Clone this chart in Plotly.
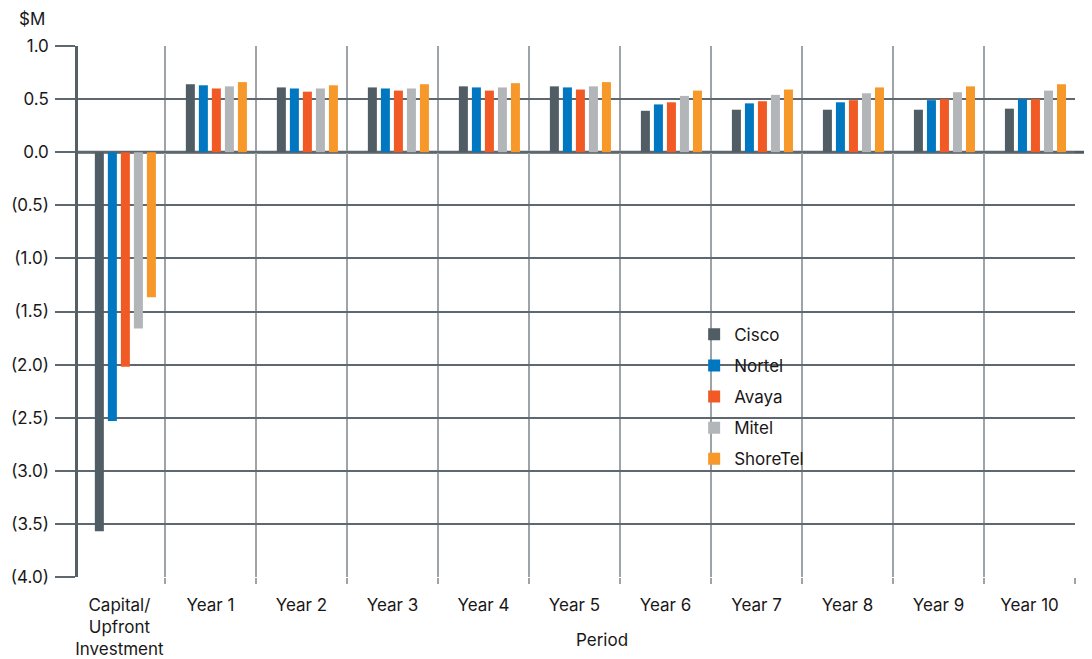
import plotly.graph_objects as go

categories = ["Capital/<br>Upfront<br>Investment", "Year 1", "Year 2", "Year 3", "Year 4",
              "Year 5", "Year 6", "Year 7", "Year 8", "Year 9", "Year 10"]
series_names = ["Cisco", "Nortel", "Avaya", "Mitel", "ShoreTel"]
cisco = [-3.57, 0.64, 0.61, 0.61, 0.62, 0.62, 0.39, 0.40, 0.40, 0.40, 0.41]
nortel = [-2.53, 0.63, 0.60, 0.60, 0.61, 0.61, 0.45, 0.46, 0.47, 0.49, 0.50]
avaya = [-2.02, 0.60, 0.57, 0.58, 0.58, 0.59, 0.47, 0.48, 0.49, 0.50, 0.50]
mitel = [-1.66, 0.62, 0.60, 0.60, 0.61, 0.62, 0.53, 0.54, 0.555, 0.565, 0.58]
shoretel = [-1.365, 0.66, 0.63, 0.64, 0.65, 0.66, 0.58, 0.59, 0.61, 0.62, 0.64]
y_tickvals = [1.0, 0.5, 0.0, -0.5, -1.0, -1.5, -2.0, -2.5, -3.0, -3.5, -4.0]
y_ticktext = ["1.0", "0.5", "0.0", "(0.5)", "(1.0)", "(1.5)", "(2.0)", "(2.5)", "(3.0)", "(3.5)", "(4.0)"]

colors = ["#515D65", "#0077C0", "#F15A24", "#B3B6B9", "#F7982A"]
values = [cisco, nortel, avaya, mitel, shoretel]

FONT = "Inter"
FS = 17
TXT = "#1A1718"
n = len(categories)
pos = list(range(n))
bar_w = 0.099
pitch = 0.143
first_off = -0.27

fig = go.Figure()
for i, (name, vals, col) in enumerate(zip(series_names, values, colors)):
    fig.add_trace(go.Bar(
        x=pos, y=vals, name=name, marker=dict(color=col, line=dict(width=0)),
        width=bar_w, offset=first_off + i * pitch, legendgroup=name,
    ))

fig.add_trace(go.Scatter(x=pos, y=[None] * n, xaxis="x2", showlegend=False,
                         hoverinfo="skip", mode="markers"))

boundaries = [k + 0.5 for k in range(n)]

# page body has an 8px margin, so the figure is sized/margined to compensate
fig.update_layout(
    width=1084, height=651,
    margin=dict(l=70, r=17, t=38, b=82, autoexpand=False),
    paper_bgcolor="white", plot_bgcolor="white",
    barmode="overlay",
    font=dict(family=FONT, size=FS, color=TXT),
    showlegend=True,
    legend=dict(x=0.618, y=0.490, xanchor="left", yanchor="top",
                bgcolor="rgba(255,255,255,0)", borderwidth=0,
                font=dict(family=FONT, size=FS, color=TXT),
                tracegroupgap=6, traceorder="grouped"),
    xaxis=dict(range=[-0.455, 10.5], tickvals=boundaries, showticklabels=False,
               showgrid=True, gridcolor="#9DA3A7", gridwidth=1.5,
               ticks="outside", ticklen=6, tickwidth=1.5, tickcolor="#9DA3A7",
               zeroline=False, showline=False, automargin=False),
    xaxis2=dict(overlaying="x", matches="x", side="bottom", anchor="y",
                tickvals=pos, ticktext=categories, ticks="", showgrid=False,
                zeroline=False, showline=False, ticklabelstandoff=16, automargin=False,
                tickfont=dict(family=FONT, size=FS, color=TXT)),
    yaxis=dict(range=[-4, 1], tickvals=y_tickvals, ticktext=y_ticktext,
               showgrid=True, gridcolor="#5E686E", gridwidth=1.5,
               ticks="outside", ticklen=20, tickwidth=1.5, tickcolor="#5E686E",
               zeroline=False, showline=True, linecolor="#555F66", linewidth=2.5,
               ticklabelstandoff=3, automargin=False,
               tickfont=dict(family=FONT, size=FS, color=TXT)),
    annotations=[
        dict(text="$M", xref="paper", yref="paper", x=-0.061, y=1.05,
             xanchor="left", yanchor="middle", showarrow=False,
             font=dict(family=FONT, size=FS, color=TXT)),
        dict(text="Period", xref="paper", yref="paper", x=0.5256, y=-0.1186,
             xanchor="center", yanchor="middle", showarrow=False,
             font=dict(family=FONT, size=FS, color=TXT)),
    ],
    shapes=[
        dict(type="rect", xref="paper", yref="paper", x0=0.5908, x1=0.7663,
             y0=0.156, y1=0.542, fillcolor="white", line=dict(width=0), layer="between"),
        dict(type="line", xref="paper", yref="y", x0=0, x1=1.013, y0=0, y1=0,
             line=dict(color="#4F5960", width=3), layer="between"),
    ],
)

fig.write_html("out.html")
